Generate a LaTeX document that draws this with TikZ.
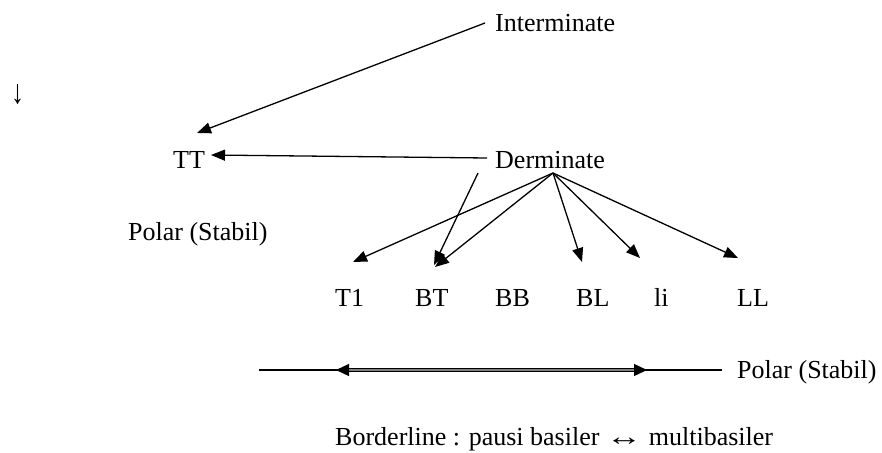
\documentclass[tikz,border=0pt]{standalone}
\usepackage{graphicx}
\usepackage{fontspec}
\setmainfont{Liberation Serif}
\usetikzlibrary{arrows.meta}
\begin{document}
\begin{tikzpicture}[x=1pt,y=-1pt,
  lbl/.style={font=\fontsize{26}{30}\selectfont, inner sep=0pt, anchor=base west},
  conn/.style={line width=1.3pt, -{Triangle[length=14pt,width=11pt]}},
  plain/.style={line width=1.3pt}]
\useasboundingbox (0,0) rectangle (882,452);
% texts
\node[lbl] (inter) at (495,32) {Interminate};
\node[lbl] (down) at (11,103) {\scalebox{1}[1.3]{↓}};
\node[lbl] (tt) at (173,168) {TT};
\node[lbl] (derm) at (495,168) {Derminate};
\node[lbl] (polarl) at (128,240) {Polar (Stabil)};
\node[lbl] (t1) at (335,306) {T1};
\node[lbl] (bt) at (415,306) {BT};
\node[lbl] (bb) at (495,306) {BB};
\node[lbl] (bl) at (576,306) {BL};
\node[lbl] (li) at (654,306) {li};
\node[lbl] (ll) at (737,306) {LL};
\node[lbl] (polarr) at (737,378) {Polar (Stabil)};
\node[lbl] (border) at (335,445) {Borderline : pausi basiler \scalebox{1.4}[1]{↔} multibasiler};
% coordinates
\coordinate (iS) at (485,23);
\coordinate (iT) at (197,133);
\coordinate (dS) at (487,158);
\coordinate (ttT) at (211,155);
\coordinate (fan) at (553,173);
\coordinate (t1T) at (353,262);
\coordinate (btT) at (435,267);
\coordinate (blT) at (582,262);
\coordinate (liT) at (640,258);
\coordinate (llT) at (738,258);
\coordinate (bS) at (478,173);
\coordinate (btT2) at (434,265);
\coordinate (lineL) at (259,370);
\coordinate (lineR) at (722,370);
\coordinate (dblL) at (336,370);
\coordinate (dblR) at (647,370);
% connectors
\draw[conn] (iS) -- (iT);
\draw[conn] (dS) -- (ttT);
\draw[conn] (fan) -- (t1T);
\draw[conn] (fan) -- (btT);
\draw[conn] (fan) -- (blT);
\draw[conn] (fan) -- (liT);
\draw[conn] (fan) -- (llT);
\draw[conn] (bS) -- (btT2);
\draw[plain] (lineL) -- (lineR);
\draw[line width=1.3pt, double=gray, double distance=1.8pt,
  {Triangle[length=13pt,width=12pt]}-{Triangle[length=13pt,width=12pt]}] (dblL) -- (dblR);
\end{tikzpicture}
\end{document}
